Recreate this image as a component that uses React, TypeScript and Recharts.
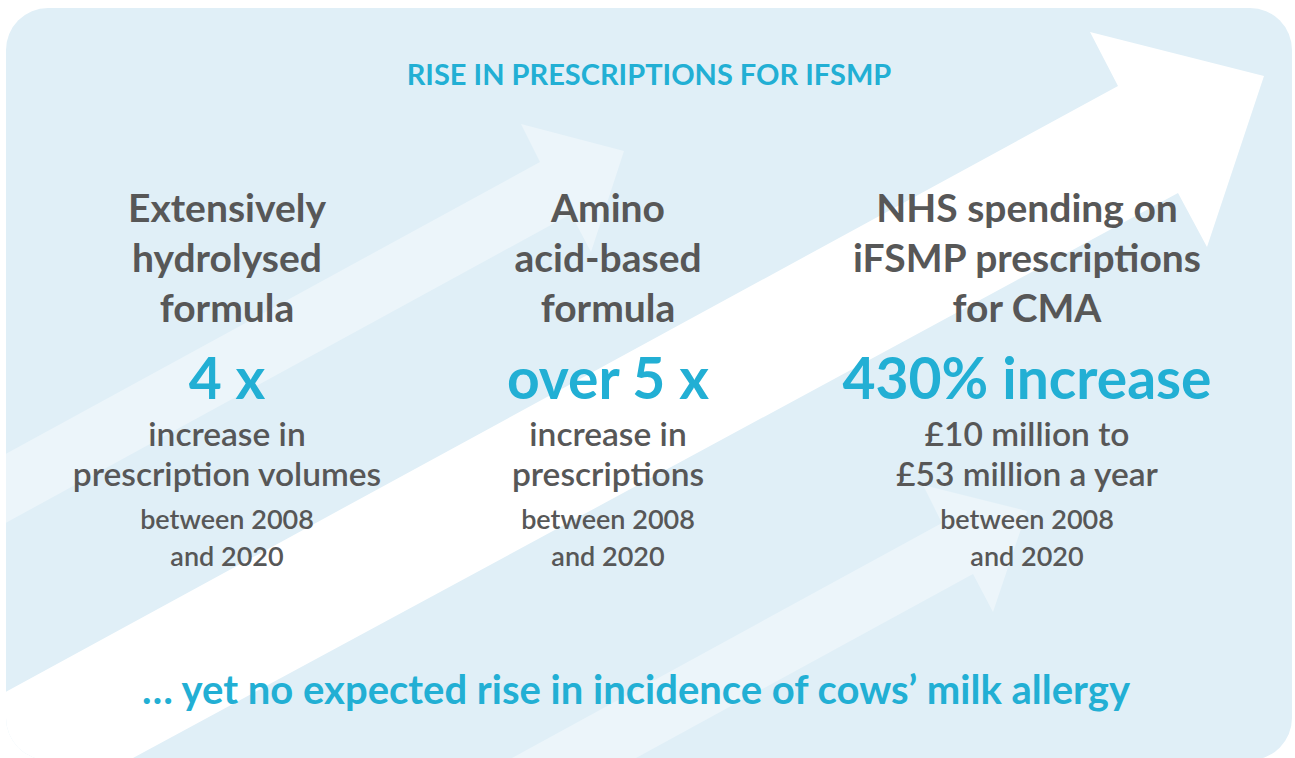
import React from "react"
import { ScatterChart, Scatter, XAxis, YAxis } from "recharts"

const W = 1295
const H = 758

// background arrows, in the chart's own units (x 0..1295, y 0..758 top-down)
const bigArrowX = [0, 1118, 1090, 1264, 1207, 1178, 133, 0]
const bigArrowY = [695, 86, 32, 76, 247, 193, 758, 758]
const leftArrowX = [0, 540, 521, 624, 591, 571, 0]
const leftArrowY = [457, 162, 124, 151, 252, 214, 526]
const lowArrowX = [512, 942, 923, 1027, 993, 973, 636]
const lowArrowY = [758, 523, 485, 511, 612, 574, 758]

// texts
const title = "RISE IN PRESCRIPTIONS FOR IFSMP"
const headings = [
    ["Extensively", "hydrolysed", "formula"],
    ["Amino", "acid-based", "formula"],
    ["NHS spending on", "iFSMP prescriptions", "for CMA"],
]
const figures = ["4 x", "over 5 x", "430% increase"]
const details = [
    ["increase in", "prescription volumes"],
    ["increase in", "prescriptions"],
    ["£10 million to", "£53 million a year"],
]
const periods = ["between 2008", "and 2020"]
const footer = "\u2026 yet no expected rise in incidence of cows\u2019 milk allergy"

const columnCenters = [227, 608, 1027]

const CYAN = "#22afd4"
const GREY = "#575757"
const FONT = "Lato, sans-serif"

const toPoints = (xs: number[], ys: number[]) => xs.map((x, i) => ({ x, y: ys[i] }))

function Line({ cx, cy, lh, size, weight, color, text }: any) {
    return (
        <div
            style={{
                position: "absolute",
                left: cx - 600,
                width: 1200,
                top: cy - lh / 2,
                height: lh,
                lineHeight: `${lh}px`,
                fontSize: size,
                fontWeight: weight,
                color,
                textAlign: "center",
                whiteSpace: "nowrap",
            }}
        >
            {text}
        </div>
    )
}

const noDot = () => <g />

export default function App() {
    return (
        <div style={{ position: "absolute", left: 0, top: 0, width: W, height: H, background: "#fff", fontFamily: FONT, overflow: "hidden" }}>
            <div
                style={{
                    position: "absolute",
                    left: 6,
                    top: 8,
                    width: 1286,
                    height: 752,
                    borderRadius: 42,
                    overflow: "hidden",
                    background: "#e0eff7",
                }}
            >
                <div style={{ position: "absolute", left: -6, top: -8 }}>
                    <ScatterChart width={W} height={H} margin={{ top: 0, right: 0, bottom: 0, left: 0 }}>
                        <XAxis type="number" dataKey="x" domain={[0, W]} hide />
                        <YAxis type="number" dataKey="y" domain={[0, H]} reversed hide />
                        <Scatter
                            data={toPoints(leftArrowX, leftArrowY)}
                            line={{ fill: "#ecf5fa", stroke: "none" }}
                            lineType="joint"
                            shape={noDot}
                            isAnimationActive={false}
                        />
                        <Scatter
                            data={toPoints(lowArrowX, lowArrowY)}
                            line={{ fill: "#ecf5fa", stroke: "none" }}
                            lineType="joint"
                            shape={noDot}
                            isAnimationActive={false}
                        />
                        <Scatter
                            data={toPoints(bigArrowX, bigArrowY)}
                            line={{ fill: "#ffffff", stroke: "none" }}
                            lineType="joint"
                            shape={noDot}
                            isAnimationActive={false}
                        />
                    </ScatterChart>
                </div>
            </div>

            <Line cx={649} cy={74} lh={40} size={29} weight={700} color={CYAN} text={title} />

            {columnCenters.map((cx, c) => (
                <React.Fragment key={c}>
                    {headings[c].map((t, i) => (
                        <Line key={"h" + i} cx={cx} cy={207 + i * 50} lh={50} size={39} weight={700} color={GREY} text={t} />
                    ))}
                    <Line cx={cx} cy={377} lh={64} size={57} weight={700} color={CYAN} text={figures[c]} />
                    {details[c].map((t, i) => (
                        <Line key={"d" + i} cx={cx} cy={433 + i * 40} lh={40} size={33.5} weight={600} color={GREY} text={t} />
                    ))}
                    {periods.map((t, i) => (
                        <Line key={"p" + i} cx={cx} cy={518 + i * 37} lh={37} size={27} weight={600} color={GREY} text={t} />
                    ))}
                </React.Fragment>
            ))}

            <Line cx={636} cy={689} lh={50} size={40} weight={700} color={CYAN} text={footer} />
        </div>
    )
}
